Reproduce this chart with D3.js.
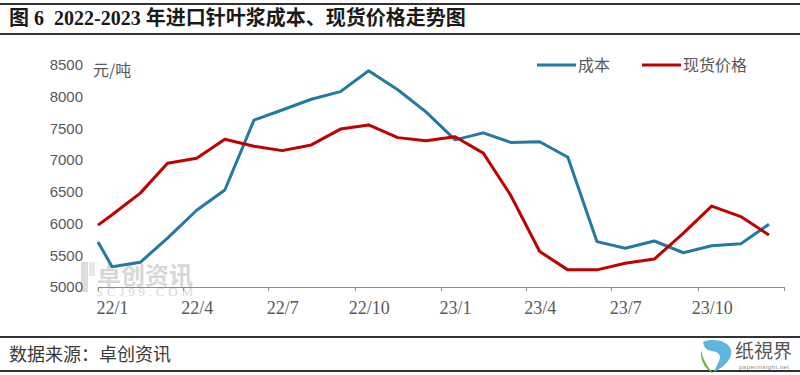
<!doctype html>
<html>
<head>
  <meta charset="utf-8">
  <title>进口针叶浆成本、现货价格走势图</title>
  <script src="https://d3js.org/d3.v7.min.js"></script>
  <style>
  body {
    margin: 0;
    background: #fff;
  }
  svg {
    display: block;
  }
  .title {
    font: bold 20px "Liberation Serif", "Noto Sans CJK SC", serif;
    fill: #1a1a1a;
  }
  .y.axis text {
    font: 15px "Liberation Sans", Arial, sans-serif;
    fill: #595959;
  }
  .x.labels text {
    font: 18px "Liberation Serif", serif;
    fill: #595959;
  }
  .axis path,
  .axis line {
    stroke: #8c8c8c;
    shape-rendering: crispEdges;
  }
  .legend text,
  .unit {
    font: 16px "Noto Sans CJK SC", sans-serif;
    fill: #595959;
  }
  .source {
    font: 18px "Noto Sans CJK SC", sans-serif;
    fill: #3a3a3a;
  }
  .rule {
    stroke: #333;
    stroke-width: 1.5;
    shape-rendering: crispEdges;
  }
  .line {
    fill: none;
    stroke-width: 3;
    stroke-linejoin: round;
  }
  </style>
</head>
<body>
  <script>
    // first point sits on the left edge of the axis, the rest mid-month
    var dates = ["2022-01-01", "2022-01-16", "2022-02-15", "2022-03-16", "2022-04-16",
                 "2022-05-16", "2022-06-16", "2022-07-16", "2022-08-16", "2022-09-16",
                 "2022-10-16", "2022-11-16", "2022-12-16", "2023-01-16", "2023-02-15",
                 "2023-03-16", "2023-04-16", "2023-05-16", "2023-06-16", "2023-07-16",
                 "2023-08-16", "2023-09-16", "2023-10-16", "2023-11-16", "2023-12-16"];

    var cost = [5710, 5320, 5390, 5770, 6210, 6530, 7630, 7790, 7960, 8080, 8410, 8110, 7760,
                7320, 7430, 7280, 7290, 7045, 5715, 5610, 5725, 5540, 5650, 5680, 5990];

    var spot = [5975, 6140, 6480, 6950, 7030, 7330, 7220, 7150, 7240, 7490, 7555, 7355, 7305,
                7370, 7110, 6450, 5560, 5270, 5270, 5375, 5440, 5850, 6275, 6110, 5820];

    var tickDates = ["2022-01-01", "2022-04-01", "2022-07-01", "2022-10-01", "2023-01-01",
                     "2023-04-01", "2023-07-01", "2023-10-01", "2024-01-01"];
    var labelDates = ["2022-01-16", "2022-04-16", "2022-07-16", "2022-10-16",
                      "2023-01-16", "2023-04-16", "2023-07-16", "2023-10-16"];
    var tickLabels = ["22/1", "22/4", "22/7", "22/10", "23/1", "23/4", "23/7", "23/10"];
    var yTicks = [5000, 5500, 6000, 6500, 7000, 7500, 8000, 8500];

    var seriesNames = ["成本", "现货价格"];
    var colours = ["#23799f", "#c00000"];

    var width = 800,
        height = 375;

    var parse = d3.utcParse("%Y-%m-%d");

    var x = d3.scaleUtc()
        .domain([parse("2022-01-01"), parse("2024-01-01")])
        .range([98, 784]);

    var y = d3.scaleLinear()
        .domain([5000, 8500])
        .range([287, 65]);

    var svg = d3.select("body").append("svg")
        .attr("width", width)
        .attr("height", height);

    // header and footer rules
    [4, 34, 337, 371].forEach(function(ry){
      svg.append("line")
          .attr("class", "rule")
          .attr("x1", 0)
          .attr("x2", width)
          .attr("y1", ry)
          .attr("y2", ry);
    });

    svg.append("text")
        .attr("class", "title")
        .attr("x", 9)
        .attr("y", 25)
        .attr("xml:space", "preserve")
        .style("white-space", "pre")
        .text("图 6  2022-2023 年进口针叶浆成本、现货价格走势图");

    // watermark
    var wm = svg.append("g").attr("opacity", 0.45);
    wm.append("rect")
        .attr("x", 81).attr("y", 262).attr("width", 7).attr("height", 30)
        .attr("fill", "#b5b5b5");
    wm.append("rect")
        .attr("x", 89).attr("y", 262).attr("width", 6).attr("height", 14)
        .attr("fill", "#cfcfcf");
    wm.append("text")
        .attr("x", 97)
        .attr("y", 284)
        .style("font", "bold 24px 'Noto Sans CJK SC', sans-serif")
        .attr("fill", "#a8a8a8")
        .text("卓创资讯");
    wm.append("text")
        .attr("x", 96)
        .attr("y", 296)
        .attr("textLength", 97)
        .style("font", "13px 'Liberation Serif', serif")
        .attr("fill", "#a8a8a8")
        .text("SCJ99.COM");

    // y axis, labels only
    var yAxis = svg.append("g")
        .attr("class", "y axis")
        .attr("transform", "translate(98,0)")
        .call(d3.axisLeft(y)
          .tickValues(yTicks)
          .tickSize(0)
          .tickPadding(15)
          .tickFormat(d3.format("d")));
    yAxis.select(".domain").remove();

    svg.append("text")
        .attr("class", "unit")
        .attr("x", 93)
        .attr("y", 76)
        .text("元/吨");

    // x axis line with ticks at quarter boundaries
    svg.append("g")
        .attr("class", "x axis")
        .attr("transform", "translate(0,287)")
        .call(d3.axisBottom(x)
          .tickValues(tickDates.map(parse))
          .tickSize(4)
          .tickSizeOuter(0)
          .tickFormat(""));

    var xLabels = svg.append("g")
        .attr("class", "x labels")
        .attr("transform", "translate(0,287)")
        .call(d3.axisBottom(x)
          .tickValues(labelDates.map(parse))
          .tickSize(0)
          .tickPadding(11)
          .tickFormat(function(d, i){ return tickLabels[i]; }));
    xLabels.select(".domain").remove();
    xLabels.selectAll("text").attr("dy", "0.9em");

    var line = d3.line()
        .x(function(d, i){ return x(parse(dates[i])); })
        .y(function(d){ return y(d); });

    [cost, spot].forEach(function(s, k){
      svg.append("path")
          .datum(s)
          .attr("class", "line")
          .attr("stroke", colours[k])
          .attr("d", line);
    });

    // legend
    var legend = svg.append("g").attr("class", "legend");
    var legendX = [537, 642];
    seriesNames.forEach(function(name, k){
      legend.append("line")
          .attr("x1", legendX[k])
          .attr("x2", legendX[k] + 39)
          .attr("y1", 65)
          .attr("y2", 65)
          .attr("stroke", colours[k])
          .attr("stroke-width", 3);
      legend.append("text")
          .attr("x", legendX[k] + 41)
          .attr("y", 71)
          .text(name);
    });

    svg.append("text")
        .attr("class", "source")
        .attr("x", 9)
        .attr("y", 361)
        .text("数据来源：卓创资讯");

    // logo bottom right
    var logo = svg.append("g");
    logo.append("path")
        .attr("d", "M703,342 C712,338 728,340 731,350 C733,360 722,368 714,372 C718,362 724,356 716,352 C710,350 705,352 703,342 Z")
        .attr("fill", "#5fb6dc");
    logo.append("path")
        .attr("d", "M701,350 C703,360 708,368 714,374 C706,370 700,362 701,350 Z")
        .attr("fill", "#6cb33f");
    logo.append("text")
        .attr("x", 735)
        .attr("y", 358)
        .style("font", "19px 'Noto Sans CJK SC', sans-serif")
        .attr("fill", "#555")
        .text("纸視界");
    logo.append("text")
        .attr("x", 739)
        .attr("y", 369)
        .attr("textLength", 50)
        .style("font", "6px 'Liberation Sans', sans-serif")
        .attr("fill", "#888")
        .text("paperinsight.net");
  </script>
</body>
</html>
